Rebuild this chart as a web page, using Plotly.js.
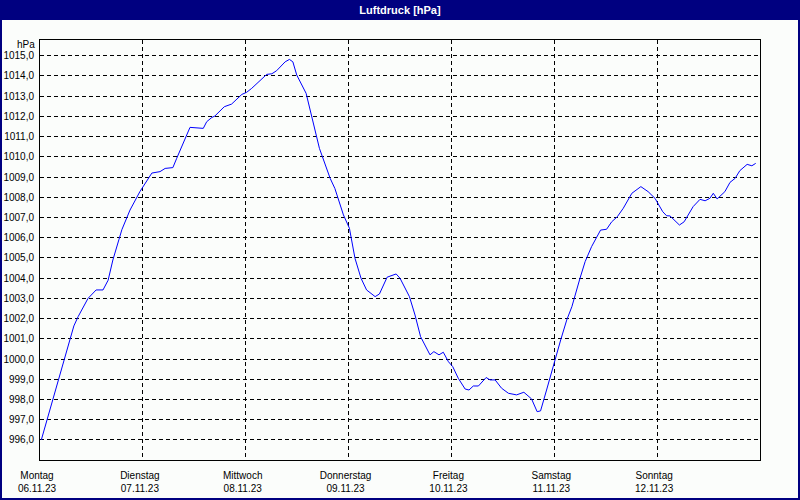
<!DOCTYPE html>
<html>
<head>
<meta charset="utf-8">
<script src="https://cdn.plot.ly/plotly-3.0.1.min.js"></script>
<style>
  html, body { margin: 0; padding: 0; background: #fbfdfb; }
  #chart { width: 800px; height: 500px; }
</style>
</head>
<body>
<div id="chart"></div>
<script>
// Time in hours since Montag 06.11.23 00:00
const hours = [0.3, 3.0, 7.3, 7.9, 8.9, 11.2, 13.1, 14.7, 15.9, 17.0, 18.4, 19.1, 21.0, 23.3,
  26.1, 28.0, 29.2, 31.0, 31.9, 33.8, 35.0, 38.1, 38.9, 40.1, 40.8, 43.0, 44.7, 47.1,
  48.2, 49.4, 52.9, 54.1, 55.2, 57.2, 58.2, 59.0, 59.9, 62.1, 63.4, 65.2, 67.7, 68.8,
  70.8, 72.2, 73.5, 74.9, 76.2, 78.2, 79.2, 81.0, 83.1, 84.0, 86.2, 87.5, 88.8, 91.0,
  91.9, 93.1, 94.1, 95.3, 96.3, 97.6, 99.2, 100.1, 101.1, 102.3, 104.1, 105.0, 106.2,
  107.7, 109.3, 111.2, 112.9, 114.7, 116.0, 116.8, 118.2, 120.2, 121.5, 122.9, 124.1,
  126.0, 127.2, 128.7, 130.8, 132.2, 133.4, 134.7, 136.1, 138.1, 140.2, 141.9, 143.5,
  145.3, 146.2, 147.0, 149.2, 150.3, 152.4, 154.0, 155.2, 156.3, 157.1, 158.0, 159.8,
  161.0, 162.2, 163.3, 165.0, 166.1, 167.0];
const pressure = [996.0, 998.0, 1001.1, 1001.64, 1002.1, 1003.0, 1003.42, 1003.42, 1003.9, 1004.9, 1005.9, 1006.4, 1007.37, 1008.28,
  1009.2, 1009.27, 1009.43, 1009.47, 1009.93, 1010.92, 1011.46, 1011.41, 1011.74, 1011.95, 1012.02, 1012.48, 1012.61, 1013.09,
  1013.19, 1013.39, 1014.08, 1014.11, 1014.26, 1014.70, 1014.82, 1014.70, 1014.05, 1013.14, 1011.98, 1010.42, 1008.94, 1008.44,
  1007.13, 1006.47, 1004.98, 1004.0, 1003.42, 1003.09, 1003.22, 1004.05, 1004.21, 1004.0, 1003.09, 1002.18, 1001.11, 1000.21,
  1000.37, 1000.21, 1000.34, 999.87, 999.63, 999.05, 998.52, 998.47, 998.67, 998.67, 999.09, 998.97, 998.97,
  998.56, 998.31, 998.23, 998.36, 998.03, 997.40, 997.44, 998.47, 1000.04, 1000.95, 1001.93, 1002.59,
  1004.0, 1004.82, 1005.56, 1006.38, 1006.42, 1006.79, 1007.04, 1007.46, 1008.2, 1008.53, 1008.28, 1007.95,
  1007.29, 1007.09, 1007.08, 1006.63, 1006.79, 1007.54, 1007.9, 1007.83, 1007.95, 1008.2, 1007.92, 1008.28,
  1008.74, 1008.94, 1009.32, 1009.63, 1009.56, 1009.68];

const dayTickVals = [0, 24, 48, 72, 96, 120, 144];
const dayNames = ["Montag", "Dienstag", "Mittwoch", "Donnerstag", "Freitag", "Samstag", "Sonntag"];
const dayDates = ["06.11.23", "07.11.23", "08.11.23", "09.11.23", "10.11.23", "11.11.23", "12.11.23"];
const yTickVals = [996, 997, 998, 999, 1000, 1001, 1002, 1003, 1004, 1005, 1006, 1007, 1008, 1009, 1010, 1011, 1012, 1013, 1014, 1015];

const chartTitle = "Luftdruck [hPa]";
const unitLabel = "hPa";

const FONT = "Liberation Sans, Arial, sans-serif";
const NAVY = "#000080";

const trace = {
  x: hours, y: pressure, type: "scatter", mode: "lines",
  line: { color: "#0000ff", width: 1 }, hoverinfo: "skip"
};

// paper-coordinate helpers (plot area: x 40..760 px, y 40..460 px)
const px = p => (p - 40) / 720;
const py = q => (460 - q) / 420;

const layout = {
  width: 800, height: 500,
  margin: { l: 40, r: 40, t: 40, b: 40, pad: 0 },
  paper_bgcolor: "#fbfdfb",
  plot_bgcolor: "#fbfdfb",
  separators: ",.",
  showlegend: false,
  font: { family: FONT, size: 10, color: "#000000" },
  title: {
    text: "<b>" + chartTitle + "</b>",
    font: { family: FONT, size: 11, color: "#ffffff" },
    x: 0.5, xref: "container", xanchor: "center",
    y: 1 - 10 / 500, yref: "container", yanchor: "middle"
  },
  xaxis: {
    range: [0, 168], fixedrange: true,
    tickmode: "array", tickvals: dayTickVals,
    ticktext: dayNames.map((n, i) => n + "<br>" + dayDates[i]),
    ticks: "", ticklabelstandoff: 6, ticklabelshift: -3,
    showgrid: true, gridcolor: "#000000", gridwidth: 1, griddash: "4px,3px",
    showline: true, linecolor: "#000000", linewidth: 1, mirror: true,
    zeroline: false,
    tickfont: { family: FONT, size: 10, color: "#000000" }
  },
  yaxis: {
    range: [995.01, 1015.78], fixedrange: true,
    tickmode: "array", tickvals: yTickVals, tickformat: ".1f",
    ticks: "", ticklabelstandoff: 3,
    showgrid: true, gridcolor: "#000000", gridwidth: 1, griddash: "4px,3px",
    showline: true, linecolor: "#000000", linewidth: 1, mirror: true,
    zeroline: false,
    tickfont: { family: FONT, size: 10, color: "#000000" }
  },
  annotations: [{
    text: unitLabel, xref: "paper", yref: "paper",
    x: 0, y: py(45), xanchor: "right", yanchor: "middle", xshift: -3,
    showarrow: false, font: { family: FONT, size: 10, color: "#000000" }
  }],
  shapes: [
    { type: "rect", xref: "paper", yref: "paper", layer: "below",
      x0: px(0), x1: px(800), y0: py(20), y1: py(0),
      fillcolor: NAVY, line: { width: 0 } },
    { type: "rect", xref: "paper", yref: "paper", layer: "above",
      x0: px(1), x1: px(799), y0: py(499), y1: py(1),
      fillcolor: "rgba(0,0,0,0)", line: { color: NAVY, width: 2 } }
  ]
};

Plotly.newPlot("chart", [trace], layout, { displayModeBar: false, staticPlot: true });
</script>
</body>
</html>
